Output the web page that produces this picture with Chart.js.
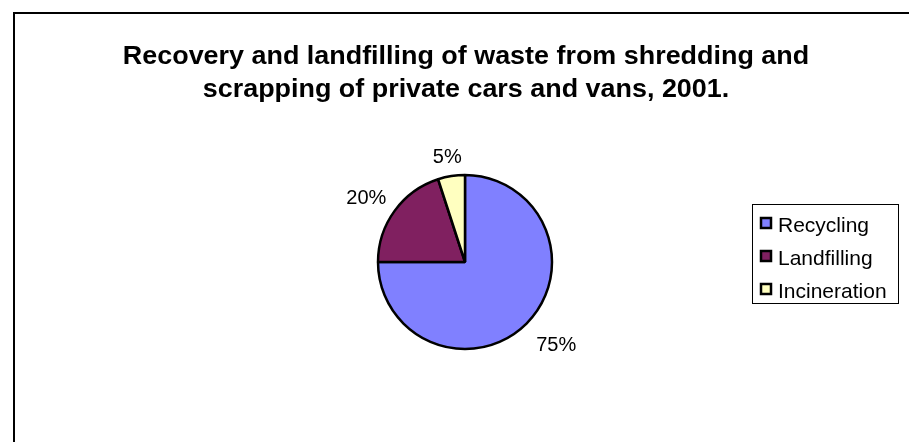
<!DOCTYPE html>
<html>
<head>
<meta charset="utf-8">
<script src="https://cdn.jsdelivr.net/npm/chart.js@4/dist/chart.umd.min.js"></script>
<style>
  html, body { margin: 0; padding: 0; background: #ffffff; }
  canvas { display: block; }
</style>
</head>
<body>
<canvas id="c" width="909" height="442"></canvas>
<script>
// ---- data ----
const categories = ['Recycling', 'Landfilling', 'Incineration'];
const shares = [75, 20, 5];
const titleLines = [
  'Recovery and landfilling of waste from shredding and',
  'scrapping of private cars and vans, 2001.'
];

// ---- styles ----
const sliceColors = ['#8080FF', '#802060', '#FFFFC0'];
const labelGap = [22, 15, 12];
const FONT = '"Liberation Sans", Arial, sans-serif';

const decor = {
  id: 'decor',
  beforeDraw(chart) {
    const ctx = chart.ctx;
    ctx.save();
    ctx.fillStyle = '#ffffff';
    ctx.fillRect(0, 0, chart.width, chart.height);
    ctx.restore();
  },
  afterDraw(chart) {
    const ctx = chart.ctx;
    ctx.save();
    // outer frame (left and top edges visible)
    ctx.fillStyle = '#000000';
    ctx.fillRect(13, 12, 2, chart.height - 12);
    ctx.fillRect(13, 12, chart.width - 13, 2);

    // title
    ctx.font = 'bold 26px ' + FONT;
    ctx.textAlign = 'center';
    ctx.textBaseline = 'alphabetic';
    const titleBase = [64, 97];
    titleLines.forEach((t, i) => {
      ctx.save();
      ctx.translate(466, titleBase[i]);
      ctx.scale(1.035, 1);
      ctx.fillText(t, 0, 0);
      ctx.restore();
    });

    // percentage labels outside the slices
    const meta = chart.getDatasetMeta(0);
    const data = chart.data.datasets[0].data;
    const total = data.reduce((a, b) => a + b, 0);
    ctx.font = '20px ' + FONT;
    ctx.textAlign = 'center';
    ctx.textBaseline = 'middle';
    meta.data.forEach((arc, i) => {
      const p = arc.getProps(['x', 'y', 'startAngle', 'endAngle', 'outerRadius'], true);
      const mid = (p.startAngle + p.endAngle) / 2;
      const txt = Math.round(data[i] / total * 100) + '%';
      const w = ctx.measureText(txt).width;
      const h = 15;
      const ux = Math.cos(mid), uy = Math.sin(mid);
      const d = p.outerRadius + labelGap[i];
      const cx = p.x + ux * d + ux * w / 2;
      const cy = p.y + uy * d + uy * h / 2;
      ctx.fillStyle = '#000000';
      ctx.fillText(txt, cx, cy + 1);
    });

    // legend
    const lx = 752, ly = 204, lw = 146, lh = 99;
    ctx.lineWidth = 1;
    ctx.strokeStyle = '#000000';
    ctx.strokeRect(lx + 0.5, ly + 0.5, lw, lh);
    ctx.font = '21px ' + FONT;
    ctx.textAlign = 'left';
    ctx.textBaseline = 'alphabetic';
    chart.data.labels.forEach((lab, i) => {
      const base = 232 + i * 33;
      ctx.fillStyle = chart.data.datasets[0].backgroundColor[i];
      ctx.fillRect(761, base - 14, 10, 10);
      ctx.lineWidth = 2.5;
      ctx.strokeStyle = '#000000';
      ctx.strokeRect(761, base - 14, 10, 10);
      ctx.fillStyle = '#000000';
      ctx.fillText(lab, 778, base);
    });
    ctx.restore();
  }
};

new Chart(document.getElementById('c'), {
  type: 'pie',
  data: {
    labels: categories,
    datasets: [{
      data: shares,
      backgroundColor: sliceColors,
      borderColor: '#000000',
      borderWidth: 2.5,
      radius: 87
    }]
  },
  options: {
    responsive: false,
    animation: false,
    events: [],
    layout: { padding: { left: 378, right: 357, top: 175, bottom: 93 } },
    plugins: {
      legend: { display: false },
      title: { display: false },
      tooltip: { enabled: false }
    }
  },
  plugins: [decor]
});
</script>
</body>
</html>
